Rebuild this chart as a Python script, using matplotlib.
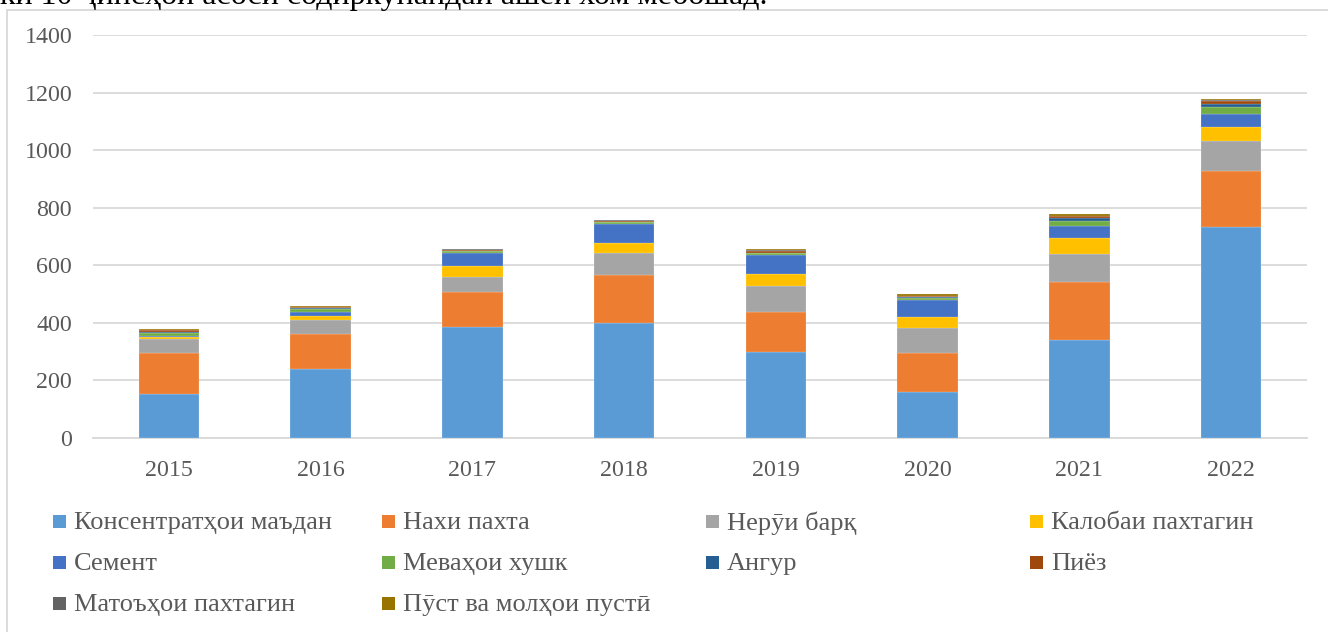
import matplotlib
matplotlib.use("Agg")
import matplotlib.pyplot as plt
from matplotlib.patches import Rectangle
import numpy as np

years = ["2015", "2016", "2017", "2018", "2019", "2020", "2021", "2022"]
series_names = ["Консентратҳои маъдан", "Нахи пахта", "Нерӯи барқ", "Калобаи пахтагин",
                "Семент", "Меваҳои хушк", "Ангур", "Пиёз",
                "Матоъҳои пахтагин", "Пӯст ва молҳои пустӣ"]
ore      = [152, 239, 387, 398, 298, 160, 341, 732]
cotton   = [144, 121, 121, 168, 139, 135, 201, 194]
power    = [48, 51, 52, 75, 92, 88, 98, 107]
yarn     = [8, 13, 37, 37, 41, 38, 55, 46]
cement   = [3, 15, 46, 65, 66, 58, 43, 48]
fruits   = [10, 9, 5, 6, 5, 8, 16, 24]
grapes   = [3, 2, 3, 3, 3, 2, 10, 8]
onion    = [6, 5, 2, 3, 6, 5, 7, 12]
fabrics  = [2, 1, 2, 1, 2, 1, 1, 2]
leather  = [3, 2, 3, 3, 4, 5, 5, 4]
series = [ore, cotton, power, yarn, cement, fruits, grapes, onion, fabrics, leather]
colors = ["#5B9BD5", "#ED7D31", "#A5A5A5", "#FFC000", "#4472C4",
          "#70AD47", "#255E91", "#9E480E", "#636363", "#997300"]

W, H = 1328, 632
fig = plt.figure(figsize=(W / 100, H / 100), dpi=100)
serif = ["Liberation Serif", "DejaVu Serif"]
txt_color = "#595959"

ax = fig.add_axes([93 / W, 1 - 438 / H, 1214 / W, 403 / H])
x = np.arange(len(years))
bottom = np.zeros(len(years))
for vals, c in zip(series, colors):
    ax.bar(x, vals, width=0.4, bottom=bottom, color=c,
           edgecolor=(1, 1, 1, 0.45), linewidth=0.3, zorder=3)
    bottom += np.array(vals)

ax.set_xlim(-0.5, len(years) - 0.5)
ax.set_ylim(0, 1400)
ax.set_yticks(range(0, 1401, 200))
ax.set_xticks(x)
ax.set_xticklabels(years)
ax.grid(axis="y", color="#D9D9D9", linewidth=1.3, zorder=0)
for s in ["top", "right", "left"]:
    ax.spines[s].set_visible(False)
ax.spines["bottom"].set_color("#D9D9D9")
ax.spines["bottom"].set_linewidth(1.3)
ax.tick_params(axis="both", length=0, colors=txt_color, labelsize=17.3)
ax.tick_params(axis="y", pad=15)
ax.tick_params(axis="x", pad=16)
for lab in ax.get_xticklabels() + ax.get_yticklabels():
    lab.set_family(serif)

# chart area border
fig.patches.append(Rectangle((7 / W, -0.1), 1.2, 1 - 10 / H + 0.1,
                             transform=fig.transFigure, fill=False,
                             edgecolor="#D9D9D9", linewidth=1.3))

# clipped caption line at the top (cut off in the reference as well)
fig.text(0.0, 1 - 4 / H, "ки 10 ҷинсҳои асосӣ содиркунандаи ашёи хом мебошад.",
         family=serif, fontsize=23, color="black", va="baseline", ha="left")

# legend (manual, 4 columns)
col_x = [53, 382, 706, 1030]
row_y = [521, 562, 603]
for i, (name, c) in enumerate(zip(series_names, colors)):
    r, k = divmod(i, 4)
    cx, cy = col_x[k], row_y[r]
    fig.patches.append(Rectangle((cx / W, 1 - (cy + 6.5) / H), 13 / W, 13 / H,
                                 transform=fig.transFigure, facecolor=c,
                                 edgecolor="none"))
    fig.text((cx + 21) / W, 1 - (cy + 2) / H, name, family=serif, fontsize=19,
             color=txt_color, va="center", ha="left")

fig.savefig("out.png", dpi=100)
